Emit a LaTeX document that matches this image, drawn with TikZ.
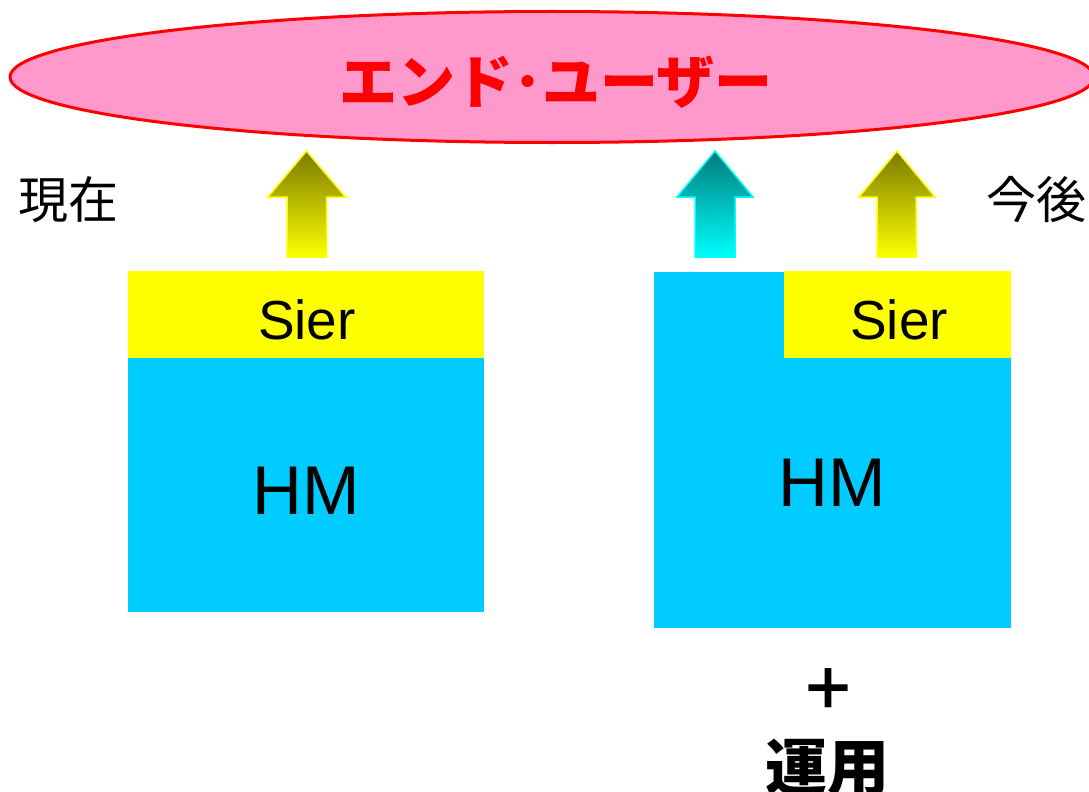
\documentclass[tikz,border=0pt]{standalone}
\usepackage{fontspec}
\setmainfont{Liberation Sans}
\newfontfamily\cjk{Noto Sans CJK JP}
\usetikzlibrary{shapes.geometric}
\definecolor{pinkfill}{HTML}{FF99CC}
\definecolor{hmblue}{HTML}{00CCFF}
\definecolor{sieryellow}{HTML}{FFFF00}
\definecolor{olivetop}{HTML}{7A7A00}
\definecolor{tealtop}{HTML}{007A7A}
\definecolor{cyanbot}{HTML}{00FFFF}
\tikzset{
  hmbox/.style={fill=hmblue, draw=none, inner sep=0pt, anchor=north west},
  sierbox/.style={fill=sieryellow, draw=none, inner sep=0pt, anchor=north west},
  boxtext/.style={inner sep=0pt, text=black},
  yarrow/.style={top color=olivetop, bottom color=sieryellow, draw=sieryellow, line width=1.5pt, line join=miter},
  carrow/.style={top color=tealtop, bottom color=cyanbot, draw=cyanbot, line width=1.5pt, line join=miter},
  jlabel/.style={inner sep=0pt, font=\cjk\fontsize{50}{50}\selectfont}
}
\begin{document}
\begin{tikzpicture}[x=1pt,y=-1pt]
\useasboundingbox (0,0) rectangle (1089,792);
% end user ellipse
\node[ellipse, draw=red, line width=3pt, fill=pinkfill, minimum width=1084pt, minimum height=131pt, inner sep=0pt] (user) at (552,77) {};
\node[inner sep=0pt, text=red, font=\cjk\bfseries\fontsize{58}{58}\selectfont] (usertext) at (556,82) {エンド･ユーザー};
% labels
\node[jlabel] (now) at (68,200) {現在};
\node[jlabel, anchor=west] (future) at (986,200) {今後};
% left stack
\node[hmbox, minimum width=356pt, minimum height=255pt] (hmL) at (128,357) {};
\node[sierbox, minimum width=356pt, minimum height=87pt] (sierL) at (128,271) {};
\node[boxtext, font=\fontsize{55}{55}\selectfont] (sierLt) at (307,320) {Sier};
\node[boxtext, font=\fontsize{69}{69}\selectfont] (hmLt) at (306,491) {HM};
% right stack
\node[hmbox, minimum width=357pt, minimum height=356pt] (hmR) at (654,272) {};
\node[sierbox, minimum width=227pt, minimum height=87pt] (sierR) at (784,271) {};
\node[boxtext, font=\fontsize{55}{55}\selectfont] (sierRt) at (899,320) {Sier};
\node[boxtext, font=\fontsize{69}{69}\selectfont] (hmRt) at (832,483) {HM};
% plus and operation
\node[inner sep=0pt, font=\cjk\bfseries\fontsize{56}{56}\selectfont] (plus) at (828,689) {＋};
\node[inner sep=0pt, font=\cjk\bfseries\fontsize{62}{62}\selectfont] (unyo) at (827,768) {運用};
% arrows
\path[yarrow] (287,257) -- (287,197) -- (268,197) -- (306.5,151) -- (345.5,197) -- (326.5,197) -- (326.5,257) -- cycle;
\path[carrow] (695,257) -- (695,197) -- (677,197) -- (715,151) -- (753,197) -- (735,197) -- (735,257) -- cycle;
\path[yarrow] (877,257) -- (877,197) -- (859,197) -- (897,151) -- (935,197) -- (916,197) -- (916,257) -- cycle;
\end{tikzpicture}
\end{document}
